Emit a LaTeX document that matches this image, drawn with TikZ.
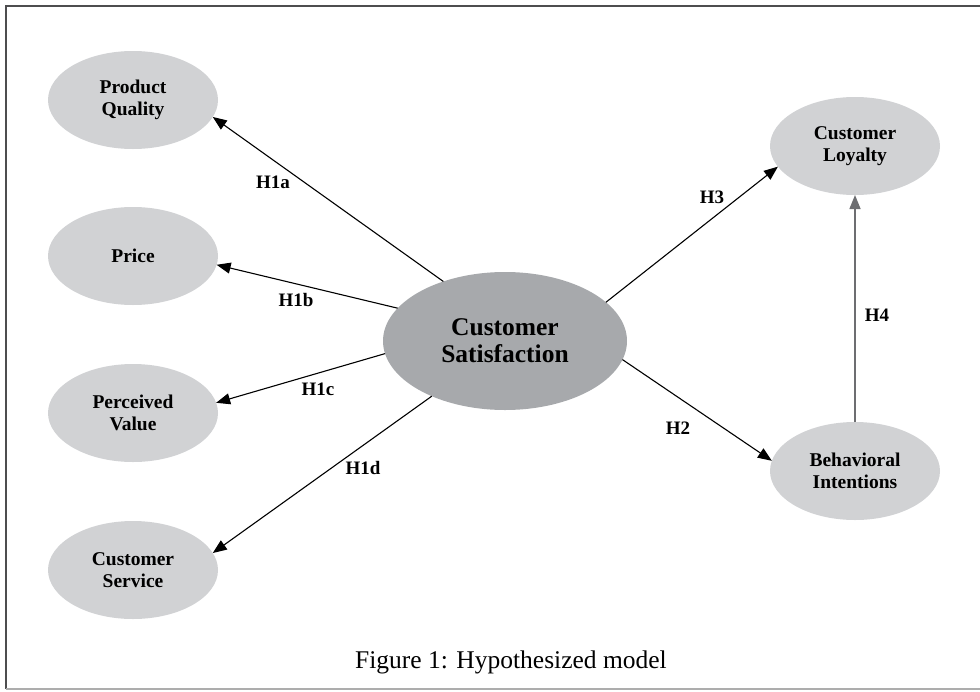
\documentclass[tikz,border=0pt]{standalone}
\usepackage{fontspec}
\setmainfont{Liberation Serif}
\usetikzlibrary{arrows.meta,shapes.geometric}
\definecolor{lightell}{HTML}{D1D2D4}
\definecolor{darkell}{HTML}{A7A9AC}
\definecolor{frameclr}{HTML}{4D4D4F}
\definecolor{framebot}{HTML}{ADADAD}
\definecolor{hfourclr}{HTML}{6D6E71}
\tikzset{
  smallell/.style={ellipse, fill=lightell, draw=none, minimum width=170pt, minimum height=98pt, inner sep=0pt, outer sep=0pt, align=center, font=\fontsize{19.5pt}{22pt}\selectfont\bfseries},
  bigell/.style={ellipse, fill=darkell, draw=none, minimum width=244pt, minimum height=138pt, inner sep=0pt, outer sep=0pt, align=center, font=\fontsize{25.5pt}{27pt}\selectfont\bfseries},
  hlabel/.style={inner sep=0pt, font=\fontsize{19pt}{21pt}\selectfont\bfseries},
  conn/.style={draw=black, line width=1.1pt, -{Triangle[length=14pt,width=11pt]}},
}
\begin{document}
\begin{tikzpicture}[x=1pt,y=-1pt]
\useasboundingbox (0,0) rectangle (980,691);
% frame
\draw[frameclr, line width=1.6pt] (980,6) -- (6,6) -- (6,689);
\draw[framebot, line width=1.6pt] (6,689) -- (980,689);

% nodes
\node[smallell] (pq) at (133,100) {Product\\Quality};
\node[smallell] (price) at (133,256) {Price};
\node[smallell] (pv) at (133,413) {Perceived\\Value};
\node[smallell] (cs) at (133,570) {Customer\\Service};
\node[bigell] (sat) at (505,341) {Customer\\Satisfaction};
\node[smallell] (cl) at (855,146) {Customer\\Loyalty};
\node[smallell] (bi) at (855,471) {Behavioral\\Intentions};

% connectors
\draw[conn] (sat.136.8) -- (pq.-12);
\draw[conn] (sat.163) -- (price.-6.1);
\draw[conn] (sat.-174.3) -- (pv.7.5);
\draw[conn] (sat.-143.3) -- (cs.12);
\draw[conn] (sat.21.7) -- (cl.-165);
\draw[conn] (sat.-9.9) -- (bi.173.8);
\draw[conn, draw=hfourclr, line width=1.5pt] (bi.north) -- (cl.south);

% labels
\node[hlabel] (h1a) at (273,182) {H1a};
\node[hlabel] (h1b) at (296,300) {H1b};
\node[hlabel] (h1c) at (318,389) {H1c};
\node[hlabel] (h1d) at (363,468) {H1d};
\node[hlabel] (h3) at (712,197) {H3};
\node[hlabel] (h2) at (678,428) {H2};
\node[hlabel] (h4) at (877,315) {H4};

% caption
\node[inner sep=0pt, font=\fontsize{25.5pt}{27pt}\selectfont, anchor=base] (cap) at (511,668) {Figure 1: Hypothesized model};
\end{tikzpicture}
\end{document}
